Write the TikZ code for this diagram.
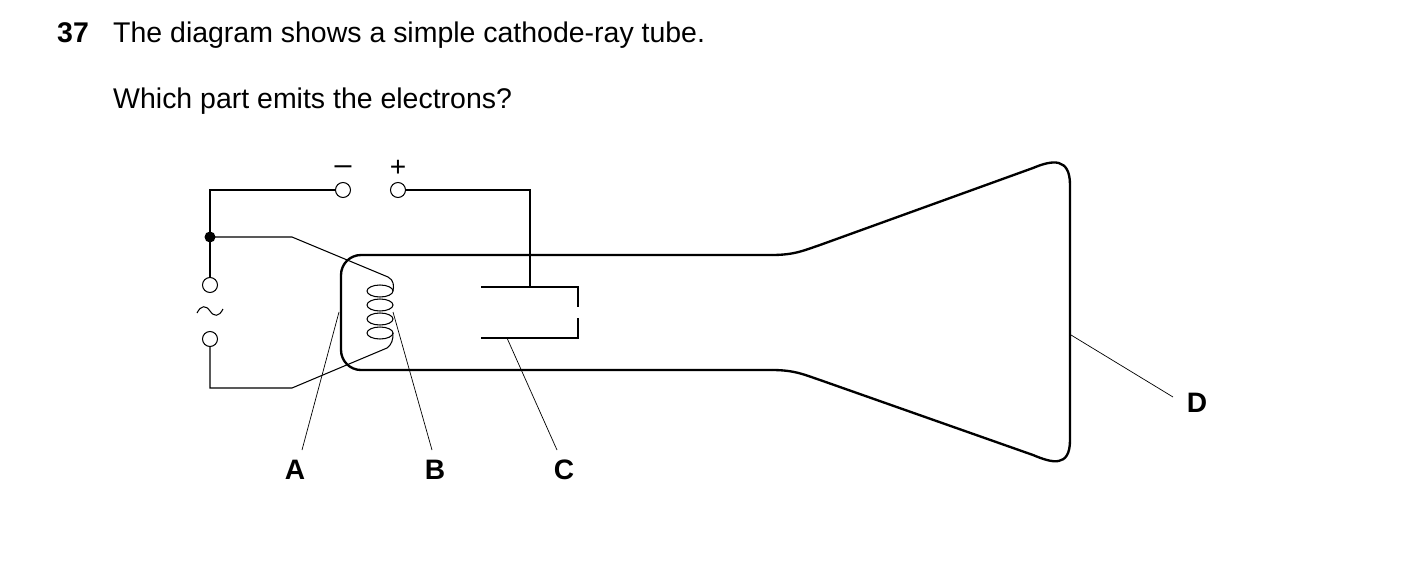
\documentclass[tikz,border=0pt]{standalone}
\usepackage{fontspec}
\setmainfont{Liberation Sans}
\begin{document}
\begin{tikzpicture}[x=0.03cm,y=-0.03cm,
  wire/.style={line width=0.9pt},
  tube/.style={line width=2pt, line join=round},
  term/.style={circle,draw,line width=0.9pt,minimum size=15*0.03cm,inner sep=0pt,fill=white},
  txt/.style={font=\fontsize{24.3}{28}\selectfont,anchor=base west,inner sep=0pt},
  lab/.style={font=\fontsize{24}{28}\selectfont\bfseries,inner sep=0pt}]
\useasboundingbox (0,0) rectangle (1403,584);
\node[txt] (n37) at (57,42) {\textbf{37}};
\node[txt] (q1) at (113,42) {The diagram shows a simple cathode-ray tube.};
\node[txt] (q2) at (113,108) {Which part emits the electrons?};
% tube
\draw[tube,rounded corners=20*0.03cm] (772,255) -- (341,255) -- (341,370) -- (772,370);
\draw[tube] (772,370)
  .. controls (795,370) and (805,375) .. (820,380) -- (1033,455)
  .. controls (1052,463) and (1070,468) .. (1070,440) -- (1070,185)
  .. controls (1070,157) and (1052,160) .. (1033,168) -- (820,245)
  .. controls (805,250) and (795,255) .. (772,255);
% terminals
\node[term] (neg) at (343,190) {};
\node[term] (pos) at (398,190) {};
\node[term] (acA) at (210,285) {};
\node[term] (acB) at (210,339) {};
\node[font=\fontsize{26}{28}\selectfont] (minus) at (343,170) {\char"2013};
\node[font=\fontsize{24}{28}\selectfont] (plus) at (398,168) {+};
\coordinate (tilde) at (210,311);
\draw[wire] (197,313) .. controls (201,305) and (206,305) .. (210,311)
  .. controls (214,317) and (219,317) .. (223,309);
\fill (210,237) circle[radius=5.5] coordinate (dot);
\coordinate (ctop) at (388,277);
\coordinate (cbot) at (387,348);
\draw[wire] (neg.west) -- (210,190) -- (dot) -- (acA.north);
\draw[wire] (dot) -- (292,237) -- (ctop);
\draw[wire] (acB.south) -- (210,388) -- (292,388) -- (cbot);
\draw[wire] (ctop) .. controls (394,280) and (394,286) .. (393,291);
\draw[wire] (393,333) .. controls (393,340) and (392,344) .. (cbot);
\foreach \yy in {291,305,319,333}
  \draw[wire] (380,\yy) ellipse[x radius=13, y radius=6];
% plates
\draw[wire] (pos.east) -- (530,190) -- (530,287);
\draw[wire] (481,287) -- (578,287) -- (578,307);
\draw[wire] (481,338) -- (578,338) -- (578,318);
% labels
\node[lab] (A) at (295,470) {A};
\node[lab] (B) at (435,470) {B};
\node[lab] (C) at (564,470) {C};
\node[lab] (D) at (1197,403) {D};
\draw[wire,line width=0.6pt] (302,450) -- (339,312);
\draw[wire,line width=0.6pt] (432,450) -- (393,312);
\draw[wire,line width=0.6pt] (557,450) -- (507,338);
\draw[wire,line width=0.6pt] (1173,397) -- (1071,335);
\end{tikzpicture}
\end{document}
